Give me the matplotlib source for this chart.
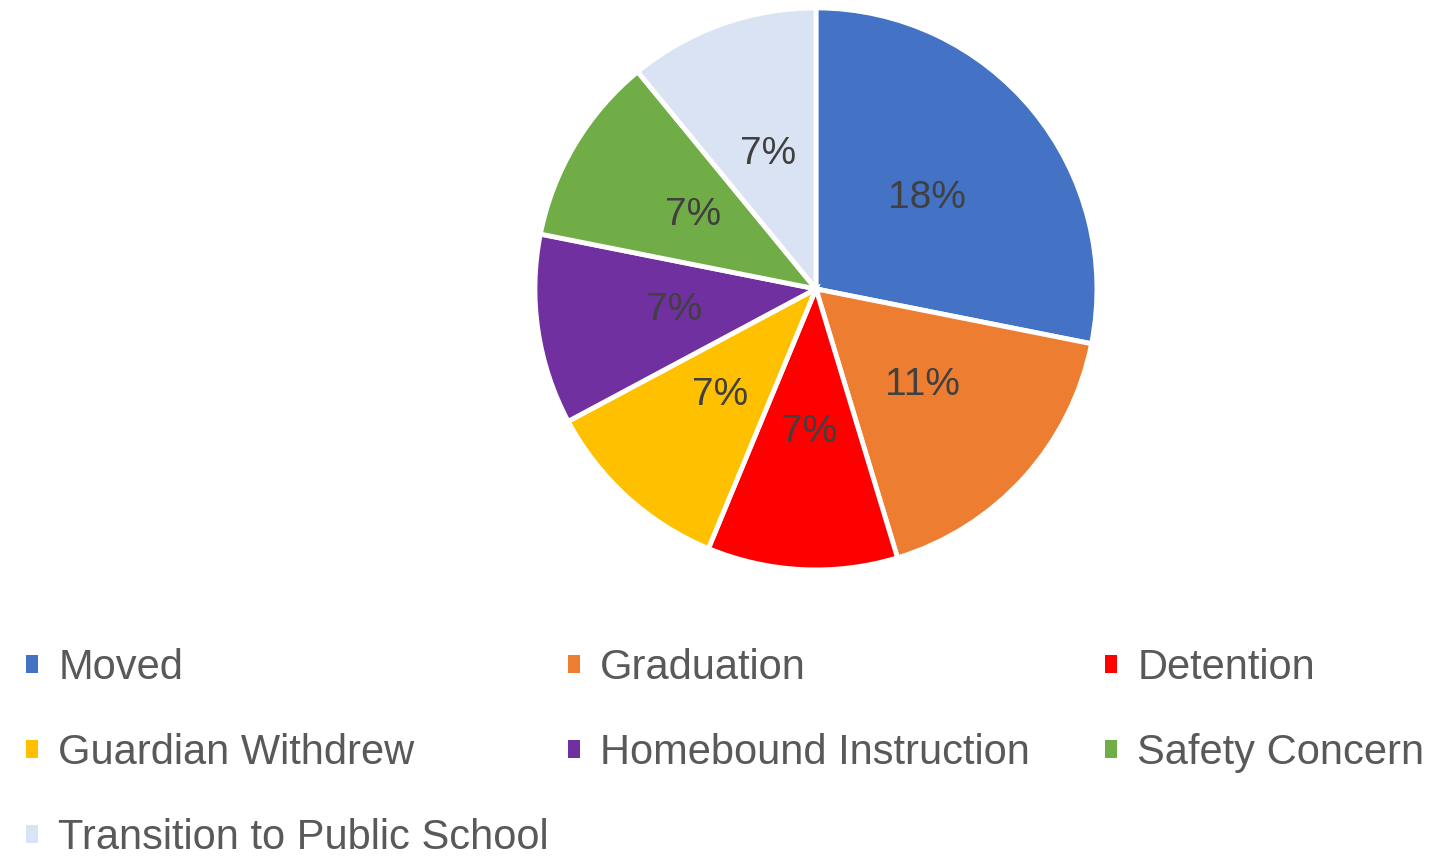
import matplotlib.pyplot as plt

# datos del grafico (porcentajes mostrados)
razones = ['Moved', 'Graduation', 'Detention', 'Guardian Withdrew',
           'Homebound Instruction', 'Safety Concern', 'Transition to Public School']
valores = [18, 11, 7, 7, 7, 7, 7]
colores = ['#4472C4', '#ED7D31', '#FF0000', '#FFC000', '#7030A0', '#70AD47', '#DAE3F3']

total = sum(valores)

fig = plt.figure(figsize=(14.56, 8.6), dpi=100)
ax = fig.add_axes([0.3674, 0.3373, 0.386, 0.6535])

wedges, textos, pcts = ax.pie(valores, colors=colores, startangle=90, counterclock=False,
                              autopct=lambda p: f'{p * total / 100:.0f}%', pctdistance=0.51,
                              wedgeprops=dict(edgecolor='white', linewidth=3.5),
                              textprops=dict(fontsize=28, color='#404040', family='Liberation Sans'))
ax.set_xlim(-1, 1)
ax.set_ylim(-1, 1)
ax.set_aspect('equal')

# leyenda en 3 columnas (orden por filas)
columnas = [[0, 3, 6], [1, 4], [2, 5]]
xs = [0.018, 0.390, 0.759]
for col, x in zip(columnas, xs):
    leg = fig.legend([wedges[i] for i in col], [razones[i] for i in col],
                     loc='upper left', bbox_to_anchor=(x, 0.247), frameon=False,
                     prop=dict(family='Liberation Sans', size=30),
                     handlelength=0.29, handleheight=0.29, handletextpad=0.48,
                     labelspacing=1.08, borderaxespad=0, borderpad=0)
    for t in leg.get_texts():
        t.set_color('#595959')
    for h in leg.legend_handles:
        h.set_linewidth(0)

plt.savefig('out.png', dpi=100)
